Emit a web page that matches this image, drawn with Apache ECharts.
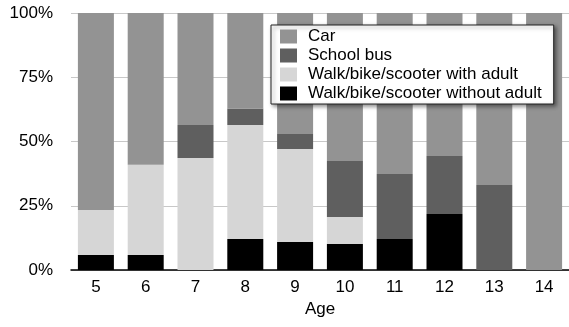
<!DOCTYPE html>
<html>
<head>
<meta charset="utf-8">
<script src="https://cdn.jsdelivr.net/npm/echarts@6/dist/echarts.min.js"></script>
<style>html,body{margin:0;padding:0;background:#fff;}#c{width:569px;height:327px;}</style>
</head>
<body>
<div id="c"></div>
<script>
var ages = ['5','6','7','8','9','10','11','12','13','14'];
var yTicks = [0, 25, 50, 75, 100];
var withoutAdult = [5.8, 5.8, 0, 12.1, 10.9, 10.1, 12.1, 21.8, 0, 0];
var withAdult = [17.5, 35.2, 43.6, 44.3, 36.2, 10.5, 0, 0, 0, 0];
var schoolBus = [0, 0, 12.8, 6.4, 5.8, 21.8, 25.3, 22.6, 33.1, 0];
var car = [76.7, 59, 43.6, 37.2, 47.1, 57.6, 62.6, 55.6, 66.9, 100];
var names = ['Car', 'School bus', 'Walk/bike/scooter with adult', 'Walk/bike/scooter without adult'];
var colors = {car:'#939393', bus:'#5f5f5f', withA:'#d6d6d6', withoutA:'#000000'};

var font = '"Liberation Sans", Arial, Helvetica, sans-serif';
var chart = echarts.init(document.getElementById('c'));
function bar(name, data, color) {
  return {name: name, type: 'bar', stack: 'a', data: data, barWidth: 36,
    itemStyle: {color: color}, emphasis: {disabled: true}};
}
chart.setOption({
  animation: false,
  grid: {left: 71, top: 13, width: 502, bottom: 57, containLabel: false},
  legend: {
    orient: 'vertical', left: 271, top: 25,
    data: names,
    itemWidth: 17, itemHeight: 14, itemGap: 2,
    icon: 'rect',
    padding: [3, 12, 2, 9],
    backgroundColor: '#fff',
    borderColor: '#222', borderWidth: 1,
    shadowColor: 'rgba(0,0,0,0.45)', shadowBlur: 4, shadowOffsetX: 2, shadowOffsetY: 2,
    textStyle: {fontFamily: font, fontSize: 17, color: '#000', lineHeight: 17, padding: [0,0,0,6]}
  },
  xAxis: {
    type: 'category', data: ages,
    name: 'Age', nameLocation: 'middle', nameGap: 30,
    nameTextStyle: {fontFamily: font, fontSize: 17, color: '#000'},
    axisLine: {show: true, lineStyle: {color: '#000', width: 1.5}},
    axisTick: {show: false},
    axisLabel: {fontFamily: font, fontSize: 17, color: '#000', margin: 9}
  },
  yAxis: {
    type: 'value', min: yTicks[0], max: yTicks[yTicks.length-1], interval: 25,
    axisLine: {show: false}, axisTick: {show: false},
    splitLine: {lineStyle: {color: '#c8c8c8', width: 1}},
    axisLabel: {fontFamily: font, fontSize: 17, color: '#000', margin: 18, formatter: '{value}%'}
  },
  series: [
    bar(names[3], withoutAdult, colors.withoutA),
    bar(names[2], withAdult, colors.withA),
    bar(names[1], schoolBus, colors.bus),
    bar(names[0], car, colors.car)
  ]
});
</script>
</body>
</html>
